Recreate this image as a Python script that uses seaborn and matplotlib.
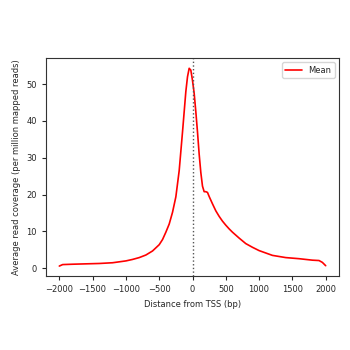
import matplotlib
matplotlib.use("Agg")
import matplotlib.pyplot as plt
import seaborn as sns
import pandas as pd

positions = [-2000, -1950, -1800, -1600, -1400, -1200, -1000, -900, -800, -700,
             -600, -500, -450, -400, -350, -300, -250, -200, -150, -100,
             -75, -50, -25, 0, 25, 50, 75, 100, 125, 150,
             175, 200, 225, 250, 300, 350, 400, 450, 500, 550, 600, 700,
             800, 900, 1000, 1200, 1400, 1600, 1800, 1900, 1950, 2000]
coverage = [0.6, 1.0, 1.1, 1.2, 1.3, 1.5, 2.0, 2.4, 2.9, 3.6,
            4.7, 6.4, 7.8, 9.8, 12.0, 15.2, 19.4, 26.5, 37.0, 48.0,
            52.0, 54.3, 53.8, 51.0, 47.5, 42.5, 37.0, 31.0, 26.0, 22.3,
            20.8, 20.8, 20.6, 19.5, 17.5, 15.6, 14.1, 12.8, 11.7, 10.7, 9.8, 8.2,
            6.7, 5.7, 4.8, 3.5, 2.9, 2.6, 2.2, 2.1, 1.6, 0.7]
series_label = "Mean"
x_label = "Distance from TSS (bp)"
y_label = "Average read coverage (per million mapped reads)"

df = pd.DataFrame({"pos": positions, "cov": coverage})

sns.set_style("ticks")
plt.rcParams["font.family"] = ["DejaVu Sans"]

fig = plt.figure(figsize=(3.5, 3.5), dpi=100)
ax = fig.add_axes([46/350, 1 - 276/350, (339-46)/350, (276-58)/350])
sns.lineplot(data=df, x="pos", y="cov", color="red", linewidth=1.2, ax=ax, label=series_label)
ax.axvline(0, color="#555555", linestyle=":", linewidth=1.0)
ax.set_xlim(-2200, 2200)
ax.set_ylim(-2.1, 57.1)
ax.set_xticks([-2000, -1500, -1000, -500, 0, 500, 1000, 1500, 2000])
ax.set_yticks([0, 10, 20, 30, 40, 50])
ax.tick_params(labelsize=6, length=3, width=0.8)
ax.set_xlabel(x_label, fontsize=6)
ax.set_ylabel(y_label, fontsize=6)
for s in ax.spines.values():
    s.set_visible(True)
    s.set_linewidth(0.8)
    s.set_color("#333333")
ax.legend(loc="upper right", fontsize=6, frameon=True)
fig.savefig("out.png", dpi=100)
